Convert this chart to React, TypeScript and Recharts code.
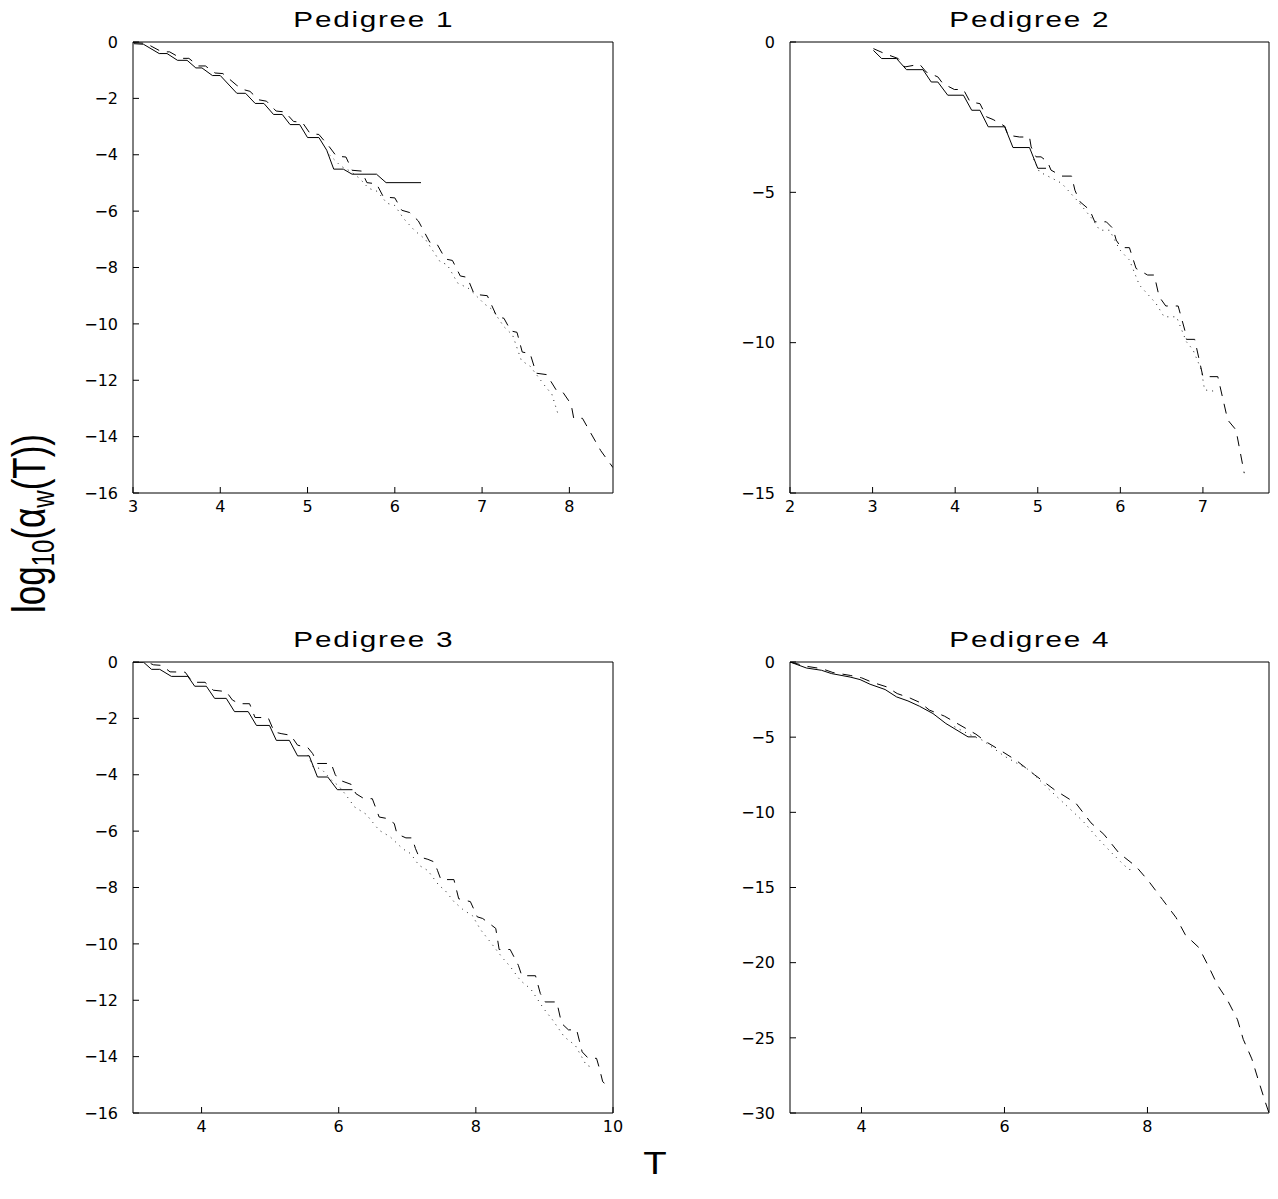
import React from 'react';
import { LineChart, Line, XAxis, YAxis } from 'recharts';

type Pt = [number, number];

// Pedigree 1
const P1_SOLID: Pt[] = [
  [3.01, -0.06], [3.12, -0.08], [3.3, -0.41], [3.39, -0.41], [3.51, -0.65], [3.62, -0.65],
  [3.72, -0.92], [3.79, -0.92], [3.91, -1.19], [4.0, -1.19], [4.19, -1.82], [4.29, -1.82],
  [4.4, -2.18], [4.5, -2.18], [4.61, -2.57], [4.71, -2.57], [4.8, -2.93], [4.91, -2.93],
  [5.0, -3.39], [5.13, -3.39], [5.22, -3.84], [5.3, -4.51], [5.41, -4.51], [5.51, -4.69],
  [5.79, -4.69], [5.9, -4.99], [6.3, -4.99],
];
const P1_DASHED: Pt[] = [
  [3.0, -0.02], [3.15, -0.05], [3.33, -0.35], [3.42, -0.35], [3.55, -0.58], [3.64, -0.58],
  [3.75, -0.85], [3.83, -0.85], [3.94, -1.1], [4.03, -1.12], [4.19, -1.54], [4.28, -1.7],
  [4.34, -1.75], [4.44, -2.05], [4.53, -2.1], [4.64, -2.45], [4.74, -2.48], [4.84, -2.82],
  [4.94, -2.85], [5.03, -3.25], [5.13, -3.28], [5.25, -3.72], [5.33, -4.05], [5.44, -4.08],
  [5.51, -4.55], [5.62, -4.58], [5.68, -4.99], [5.79, -5.03], [5.87, -5.5], [6.0, -5.53],
  [6.08, -5.97], [6.17, -6.05], [6.27, -6.35], [6.4, -7.1], [6.48, -7.15], [6.58, -7.7],
  [6.66, -7.75], [6.75, -8.3], [6.83, -8.35], [6.91, -8.95], [7.06, -9.0], [7.17, -9.75],
  [7.25, -9.8], [7.33, -10.25], [7.4, -10.3], [7.46, -11.0], [7.55, -11.05], [7.62, -11.75],
  [7.74, -11.8], [7.85, -12.35], [7.92, -12.4], [8.02, -12.85], [8.05, -13.35], [8.15, -13.35],
  [8.25, -13.9], [8.36, -14.5], [8.5, -15.1],
];
const P1_DOTTED: Pt[] = [
  [5.25, -4.0], [5.38, -4.4], [5.5, -4.6], [5.6, -4.85], [5.7, -5.19], [5.8, -5.3],
  [5.91, -5.72], [6.0, -5.8], [6.1, -6.26], [6.23, -6.7], [6.35, -7.0], [6.52, -7.8],
  [6.6, -7.9], [6.72, -8.55], [6.85, -8.75], [7.03, -9.3], [7.12, -9.5], [7.25, -10.1],
  [7.35, -10.4], [7.45, -11.3], [7.55, -11.5], [7.72, -12.2], [7.8, -12.5], [7.87, -13.2],
];

// Pedigree 2
const P2_SOLID: Pt[] = [
  [3.01, -0.28], [3.11, -0.55], [3.29, -0.55], [3.41, -0.92], [3.61, -0.92], [3.71, -1.33],
  [3.79, -1.33], [3.91, -1.77], [4.1, -1.77], [4.2, -2.27], [4.3, -2.27], [4.4, -2.82],
  [4.6, -2.82], [4.7, -3.51], [4.9, -3.51], [5.0, -4.2], [5.1, -4.2],
];
const P2_DASHED: Pt[] = [
  [3.01, -0.22], [3.15, -0.39], [3.31, -0.55], [3.39, -0.83], [3.57, -0.74], [3.65, -1.0],
  [3.79, -1.16], [3.85, -1.38], [3.99, -1.58], [4.1, -1.58], [4.18, -1.99], [4.3, -2.05],
  [4.38, -2.49], [4.46, -2.58], [4.6, -2.8], [4.64, -3.1], [4.78, -3.16], [4.9, -3.16],
  [4.92, -3.49], [4.98, -3.82], [5.04, -3.82], [5.12, -3.99], [5.16, -4.26], [5.29, -4.46],
  [5.41, -4.46], [5.45, -4.93], [5.51, -5.31], [5.63, -5.59], [5.69, -5.98], [5.83, -5.98],
  [5.91, -6.2], [5.95, -6.59], [6.01, -6.84], [6.11, -6.84], [6.19, -7.53], [6.33, -7.75],
  [6.41, -7.75], [6.47, -8.47], [6.55, -8.78], [6.7, -8.78], [6.78, -9.58], [6.8, -9.89],
  [6.9, -9.89], [7.0, -11.13], [7.18, -11.13], [7.3, -12.57], [7.4, -12.9], [7.5, -14.34],
];
const P2_DOTTED: Pt[] = [
  [4.95, -3.9], [5.02, -4.32], [5.18, -4.54], [5.29, -4.7], [5.49, -5.31], [5.67, -5.92],
  [5.75, -6.26], [5.87, -6.26], [5.99, -6.9], [6.07, -7.14], [6.11, -7.25], [6.23, -8.08],
  [6.43, -8.69], [6.53, -9.14], [6.68, -9.14], [6.8, -9.97], [6.88, -10.24], [6.98, -10.9],
  [7.02, -11.57], [7.18, -11.63],
];

// Pedigree 3
const P3_SOLID: Pt[] = [
  [3.0, 0], [3.15, 0], [3.27, -0.26], [3.39, -0.26], [3.56, -0.51], [3.8, -0.51],
  [3.9, -0.86], [4.07, -0.86], [4.19, -1.29], [4.36, -1.29], [4.48, -1.76], [4.68, -1.76],
  [4.8, -2.25], [4.99, -2.25], [5.09, -2.78], [5.28, -2.78], [5.4, -3.33], [5.57, -3.33],
  [5.69, -4.08], [5.84, -4.08], [5.98, -4.53], [6.2, -4.53],
];
const P3_DASHED: Pt[] = [
  [3.0, 0], [3.2, 0], [3.3, -0.1], [3.42, -0.12], [3.54, -0.35], [3.76, -0.36],
  [3.87, -0.72], [4.05, -0.72], [4.17, -1.0], [4.36, -1.05], [4.45, -1.35], [4.55, -1.48],
  [4.7, -1.48], [4.78, -1.97], [4.97, -1.97], [5.06, -2.48], [5.16, -2.54], [5.3, -2.6],
  [5.4, -2.95], [5.55, -3.04], [5.62, -3.25], [5.69, -3.6], [5.89, -3.6], [5.95, -4.0],
  [6.01, -4.19], [6.18, -4.34], [6.25, -4.67], [6.37, -4.85], [6.49, -4.85], [6.59, -5.5],
  [6.7, -5.55], [6.81, -5.73], [6.85, -6.1], [6.98, -6.24], [7.07, -6.24], [7.12, -6.62],
  [7.17, -6.91], [7.3, -7.0], [7.39, -7.09], [7.44, -7.39], [7.49, -7.72], [7.68, -7.72],
  [7.75, -8.4], [7.92, -8.5], [8.02, -9.04], [8.1, -9.1], [8.29, -9.45], [8.34, -10.2],
  [8.5, -10.2], [8.62, -10.76], [8.67, -11.13], [8.87, -11.13], [8.94, -11.76], [9.01, -12.06],
  [9.18, -12.06], [9.25, -12.82], [9.35, -13.05], [9.47, -13.05], [9.55, -13.83], [9.64, -14.06],
  [9.76, -14.06], [9.8, -14.4], [9.85, -14.89], [9.95, -15.1],
];
const P3_DOTTED: Pt[] = [
  [5.55, -3.3], [5.62, -3.7], [5.75, -3.8], [5.9, -4.2], [6.0, -4.4], [6.1, -4.7],
  [6.23, -5.14], [6.4, -5.4], [6.59, -5.97], [6.75, -6.2], [6.93, -6.62], [7.05, -6.8],
  [7.17, -7.21], [7.3, -7.4], [7.46, -7.92], [7.55, -8.1], [7.68, -8.5], [7.82, -8.8],
  [7.95, -9.0], [8.07, -9.5], [8.2, -9.9], [8.39, -10.5], [8.5, -10.8], [8.65, -11.3],
  [8.8, -11.6], [8.99, -12.3], [9.12, -12.7], [9.29, -13.3], [9.45, -13.6], [9.61, -14.3],
  [9.72, -14.4],
];

// Pedigree 4
const P4_SOLID: Pt[] = [
  [3.0, 0], [3.23, -0.4], [3.44, -0.55], [3.58, -0.77], [3.84, -1.0], [3.98, -1.17],
  [4.12, -1.48], [4.33, -1.83], [4.49, -2.32], [4.65, -2.59], [4.81, -2.94], [5.0, -3.43],
  [5.18, -4.09], [5.49, -4.98], [5.6, -4.98],
];
const P4_DASHED: Pt[] = [
  [3.0, 0], [3.25, -0.3], [3.45, -0.45], [3.6, -0.7], [3.85, -0.9], [4.0, -1.05],
  [4.15, -1.35], [4.35, -1.65], [4.5, -2.1], [4.68, -2.4], [4.82, -2.7], [4.95, -3.2],
  [5.16, -3.6], [5.46, -4.42], [5.6, -4.8], [5.74, -5.3], [5.95, -5.9], [6.16, -6.53],
  [6.42, -7.5], [6.7, -8.5], [7.0, -9.4], [7.21, -10.7], [7.39, -11.46], [7.6, -12.7],
  [7.84, -13.6], [8.02, -14.6], [8.21, -15.8], [8.4, -17.0], [8.53, -18.15], [8.72, -19.0],
  [8.86, -20.3], [8.98, -21.5], [9.12, -22.5], [9.26, -23.8], [9.34, -25.1], [9.46, -26.4],
  [9.55, -27.8], [9.65, -29.3], [9.7, -30.0],
];
const P4_DOTTED: Pt[] = [
  [5.3, -4.3], [5.5, -4.8], [5.69, -5.2], [6.0, -6.27], [6.35, -7.2], [6.63, -8.5],
  [6.9, -9.7], [7.1, -10.6], [7.32, -11.8], [7.5, -12.7], [7.67, -13.5], [7.74, -13.8],
  [7.8, -13.8],
];

const TITLES = ['Pedigree 1', 'Pedigree 2', 'Pedigree 3', 'Pedigree 4'];

const TICK_FONT = '"DejaVu Sans", sans-serif';
const LABEL_FONT = '"Liberation Sans", Arial, sans-serif';

const rows = (pts: Pt[]) => pts.map(([x, y]) => ({ x, y }));
const fmt = (v: number) => (v < 0 ? '\u2212' + Math.abs(v) : String(v));

interface PanelProps {
  plotX: number;
  plotY: number;
  plotW: number;
  plotH: number;
  xDomain: [number, number];
  xTicks: number[];
  yDomain: [number, number];
  yTicks: number[];
  solid: Pt[];
  dashed: Pt[];
  dotted: Pt[];
}

const Y_W = 60; // left axis width
const X_H = 40; // bottom axis height
const T_H = 8; // top axis (ticks only)
const R_W = 8; // right axis (ticks only)
const M = { top: 2, right: 14, bottom: 0, left: 0 };

const Panel: React.FC<PanelProps> = ({
  plotX, plotY, plotW, plotH, xDomain, xTicks, yDomain, yTicks, solid, dashed, dotted,
}) => {
  const width = M.left + Y_W + plotW + R_W + M.right;
  const height = M.top + T_H + plotH + X_H + M.bottom;
  const tickStyle = { fill: '#000', fontSize: 16, fontFamily: TICK_FONT };
  const axisProps = { stroke: '#000', strokeWidth: 1 };
  return (
    <div style={{ position: 'absolute', left: plotX - Y_W - M.left, top: plotY - T_H - M.top }}>
      <LineChart width={width} height={height} margin={M}>
        <XAxis
          xAxisId="b"
          dataKey="x"
          type="number"
          domain={xDomain}
          ticks={xTicks}
          interval={0}
          allowDataOverflow
          height={X_H}
          tickSize={-6}
          tickMargin={14}
          tick={tickStyle}
          tickFormatter={fmt}
          axisLine={axisProps}
          tickLine={axisProps}
        />
        <XAxis
          xAxisId="t"
          orientation="top"
          dataKey="x"
          type="number"
          domain={xDomain}
          ticks={xTicks}
          interval={0}
          allowDataOverflow
          height={T_H}
          tickSize={-6}
          tick={false}
          axisLine={axisProps}
          tickLine={axisProps}
        />
        <YAxis
          yAxisId="l"
          dataKey="y"
          type="number"
          domain={yDomain}
          ticks={yTicks}
          interval={0}
          allowDataOverflow
          width={Y_W}
          tickSize={-6}
          tickMargin={21}
          tick={tickStyle}
          tickFormatter={fmt}
          axisLine={axisProps}
          tickLine={axisProps}
        />
        <YAxis
          yAxisId="r"
          orientation="right"
          dataKey="y"
          type="number"
          domain={yDomain}
          ticks={yTicks}
          interval={0}
          allowDataOverflow
          width={R_W}
          tickSize={-6}
          tick={false}
          axisLine={axisProps}
          tickLine={axisProps}
        />
        <Line xAxisId="b" yAxisId="l" data={rows(dotted)} dataKey="y" type="linear" stroke="#222"
          strokeWidth={1} strokeDasharray="1 5" dot={false} activeDot={false} isAnimationActive={false} />
        <Line xAxisId="b" yAxisId="l" data={rows(dashed)} dataKey="y" type="linear" stroke="#000"
          strokeWidth={1} strokeDasharray="10 8" dot={false} activeDot={false} isAnimationActive={false} />
        <Line xAxisId="b" yAxisId="l" data={rows(solid)} dataKey="y" type="linear" stroke="#000"
          strokeWidth={1} dot={false} activeDot={false} isAnimationActive={false} />
      </LineChart>
    </div>
  );
};

const Title: React.FC<{ cx: number; y: number; text: string }> = ({ cx, y, text }) => (
  <text transform={`translate(${cx},${y}) scale(1.35,1)`} x={0} y={0} textAnchor="middle"
    fontFamily={LABEL_FONT} fontSize={22} fill="#000" textLength={118} lengthAdjust="spacing">
    {text}
  </text>
);

export default function App() {
  return (
    <div style={{ position: 'absolute', left: 0, top: 0, width: 1278, height: 1199, overflow: 'hidden', background: '#fff' }}>
      <Panel plotX={133} plotY={42} plotW={480} plotH={451}
        xDomain={[3, 8.5]} xTicks={[3, 4, 5, 6, 7, 8]}
        yDomain={[-16, 0]} yTicks={[-16, -14, -12, -10, -8, -6, -4, -2, 0]}
        solid={P1_SOLID} dashed={P1_DASHED} dotted={P1_DOTTED} />
      <Panel plotX={790} plotY={42} plotW={479} plotH={451}
        xDomain={[2, 7.8]} xTicks={[2, 3, 4, 5, 6, 7]}
        yDomain={[-15, 0]} yTicks={[-15, -10, -5, 0]}
        solid={P2_SOLID} dashed={P2_DASHED} dotted={P2_DOTTED} />
      <Panel plotX={133} plotY={662} plotW={480} plotH={451}
        xDomain={[3, 10]} xTicks={[4, 6, 8, 10]}
        yDomain={[-16, 0]} yTicks={[-16, -14, -12, -10, -8, -6, -4, -2, 0]}
        solid={P3_SOLID} dashed={P3_DASHED} dotted={P3_DOTTED} />
      <Panel plotX={790} plotY={662} plotW={479} plotH={451}
        xDomain={[3, 9.7]} xTicks={[4, 6, 8]}
        yDomain={[-30, 0]} yTicks={[-30, -25, -20, -15, -10, -5, 0]}
        solid={P4_SOLID} dashed={P4_DASHED} dotted={P4_DOTTED} />
      <svg width={1278} height={1199} style={{ position: 'absolute', left: 0, top: 0, pointerEvents: 'none' }}>
        <Title cx={373} y={27} text={TITLES[0]} />
        <Title cx={1029} y={27} text={TITLES[1]} />
        <Title cx={373} y={647} text={TITLES[2]} />
        <Title cx={1029} y={647} text={TITLES[3]} />
        <text transform="translate(45,613) rotate(-90) scale(1,1.3)" fontFamily={LABEL_FONT} fontSize={35} fill="#000">
          <tspan>log</tspan>
          <tspan dy={7} fontSize={24}>10</tspan>
          <tspan dy={-7}>(α</tspan>
          <tspan dy={7} fontSize={24}>w</tspan>
          <tspan dy={-7}>(T))</tspan>
        </text>
        <text x={655} y={1174} textAnchor="middle" fontFamily={LABEL_FONT} fontSize={32} fill="#000"
          transform="translate(655,0) scale(1.2,1) translate(-655,0)">T</text>
      </svg>
    </div>
  );
}
